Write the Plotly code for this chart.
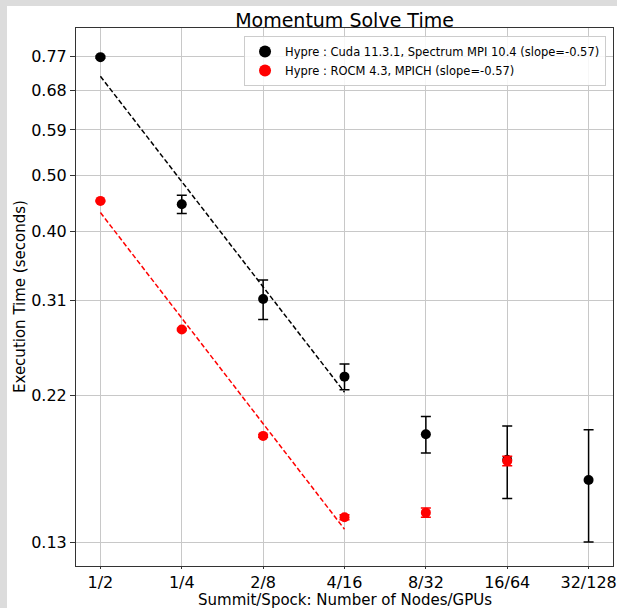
import numpy as np
import plotly.graph_objects as go

# ---------------- data ----------------
categories = ["1/2", "1/4", "2/8", "4/16", "8/32", "16/64", "32/128"]
gpus = [2, 4, 8, 16, 32, 64, 128]

cuda_time = [0.769, 0.444, 0.3118, 0.2333, 0.1882, 0.171, 0.1586]
cuda_err = [0.003, 0.0152, 0.023, 0.0112, 0.0128, 0.023, 0.0328]

rocm_time = [0.4496, 0.2782, 0.187, 0.138, 0.1404, 0.1703]
rocm_err = [0.001, 0.001, 0.001, 0.0013, 0.0024, 0.003]

tick_labels = ["0.13", "0.22", "0.31", "0.40", "0.50", "0.59", "0.68", "0.77"]
tick_values = [0.1255, 0.2176, 0.3097, 0.4018, 0.4940, 0.5861, 0.6782, 0.7703]

cuda_name = "Hypre : Cuda 11.3.1, Spectrum MPI 10.4 (slope=-0.57)"
rocm_name = "Hypre : ROCM 4.3, MPICH (slope=-0.57)"
x_title = "Summit/Spock: Number of Nodes/GPUs"
y_title = "Execution Time (seconds)"

# ---------------- figure ----------------
xpos = np.log2(gpus)
FONT = "DejaVu Sans"


def fit_line(x, y, n=4):
    x = np.asarray(x[:n], dtype=float)
    y = np.asarray(y[:n], dtype=float)
    p = np.polyfit(np.log(2.0 ** x), np.log(y), 1)
    return x, np.exp(np.polyval(p, np.log(2.0 ** x)))


fig = go.Figure()

fig.add_trace(go.Scatter(
    x=xpos, y=cuda_time, mode="markers", name=cuda_name,
    marker=dict(color="black", size=10),
    error_y=dict(type="data", array=cuda_err, visible=True,
                 color="black", thickness=1.5, width=5),
))
fx, fy = fit_line(xpos, cuda_time)
fig.add_trace(go.Scatter(
    x=fx, y=fy, mode="lines", showlegend=False,
    line=dict(color="black", width=1.5, dash="5px,2.5px"),
))

fig.add_trace(go.Scatter(
    x=xpos[:len(rocm_time)], y=rocm_time, mode="markers", name=rocm_name,
    marker=dict(color="red", size=10),
    error_y=dict(type="data", array=rocm_err, visible=True,
                 color="red", thickness=1.5, width=5),
))
fx, fy = fit_line(xpos, rocm_time)
fig.add_trace(go.Scatter(
    x=fx, y=fy, mode="lines", showlegend=False,
    line=dict(color="red", width=1.5, dash="5px,2.5px"),
))

W, H = 617, 608
L, R, T, B = 76, 4, 28, 42
pw, ph = W - L - R, H - T - B
bottom_px = H - B

fig.update_layout(
    width=W, height=H,
    margin=dict(l=L, r=R, t=T, b=B, pad=0, autoexpand=False),
    paper_bgcolor="#dcdcdc",
    plot_bgcolor="white",
    font=dict(family=FONT, color="black", size=16),
    title=dict(text="Momentum Solve Time", x=(L + pw / 2) / W, xanchor="center",
               y=1 - 20 / H, yanchor="middle", yref="container",
               font=dict(size=19, family=FONT, color="black")),
    showlegend=True,
    legend=dict(x=0.987, y=1 - (36 - T) / ph, xanchor="right", yanchor="top",
                bgcolor="rgba(255,255,255,0.85)", bordercolor="#cccccc",
                borderwidth=1, font=dict(size=11.5, family=FONT),
                tracegroupgap=0, itemsizing="constant"),
    shapes=[dict(type="rect", xref="paper", yref="paper", layer="below",
                 x0=(7 - L) / pw, x1=1.05, y0=-0.2, y1=1 + (T - 6) / ph,
                 fillcolor="white", line=dict(width=0))],
    annotations=[
        dict(text=x_title, xref="paper", yref="paper",
             x=0.5, y=-(600 - bottom_px) / ph, xanchor="center", yanchor="middle",
             showarrow=False, font=dict(size=15, family=FONT, color="black")),
        dict(text=y_title, xref="paper", yref="paper", textangle=-90,
             x=-(L - 20) / pw, y=0.5, xanchor="center", yanchor="middle",
             showarrow=False, font=dict(size=15, family=FONT, color="black")),
    ],
)

fig.update_xaxes(
    automargin=False,
    range=[xpos[0] - 0.3, xpos[-1] + 0.3],
    tickvals=xpos, ticktext=categories,
    showgrid=True, gridcolor="#c8c8c8", gridwidth=1,
    showline=True, linecolor="#333333", linewidth=1, mirror=True,
    ticks="outside", ticklen=2, tickcolor="#333333",
    tickfont=dict(size=16, family=FONT),
    zeroline=False,
)

ymin = 0.1255 * np.exp(-(bottom_px - 542.7) / 267.9)
ymax = 0.7703 * np.exp((56.7 - T) / 267.9)
fig.update_yaxes(
    automargin=False,
    type="log",
    range=[np.log10(ymin), np.log10(ymax)],
    tickvals=tick_values, ticktext=tick_labels,
    showgrid=True, gridcolor="#c8c8c8", gridwidth=1,
    showline=True, linecolor="#333333", linewidth=1, mirror=True,
    ticks="outside", ticklen=5, tickcolor="#333333",
    tickfont=dict(size=16, family=FONT),
    zeroline=False,
)

fig.write_html("out.html")
